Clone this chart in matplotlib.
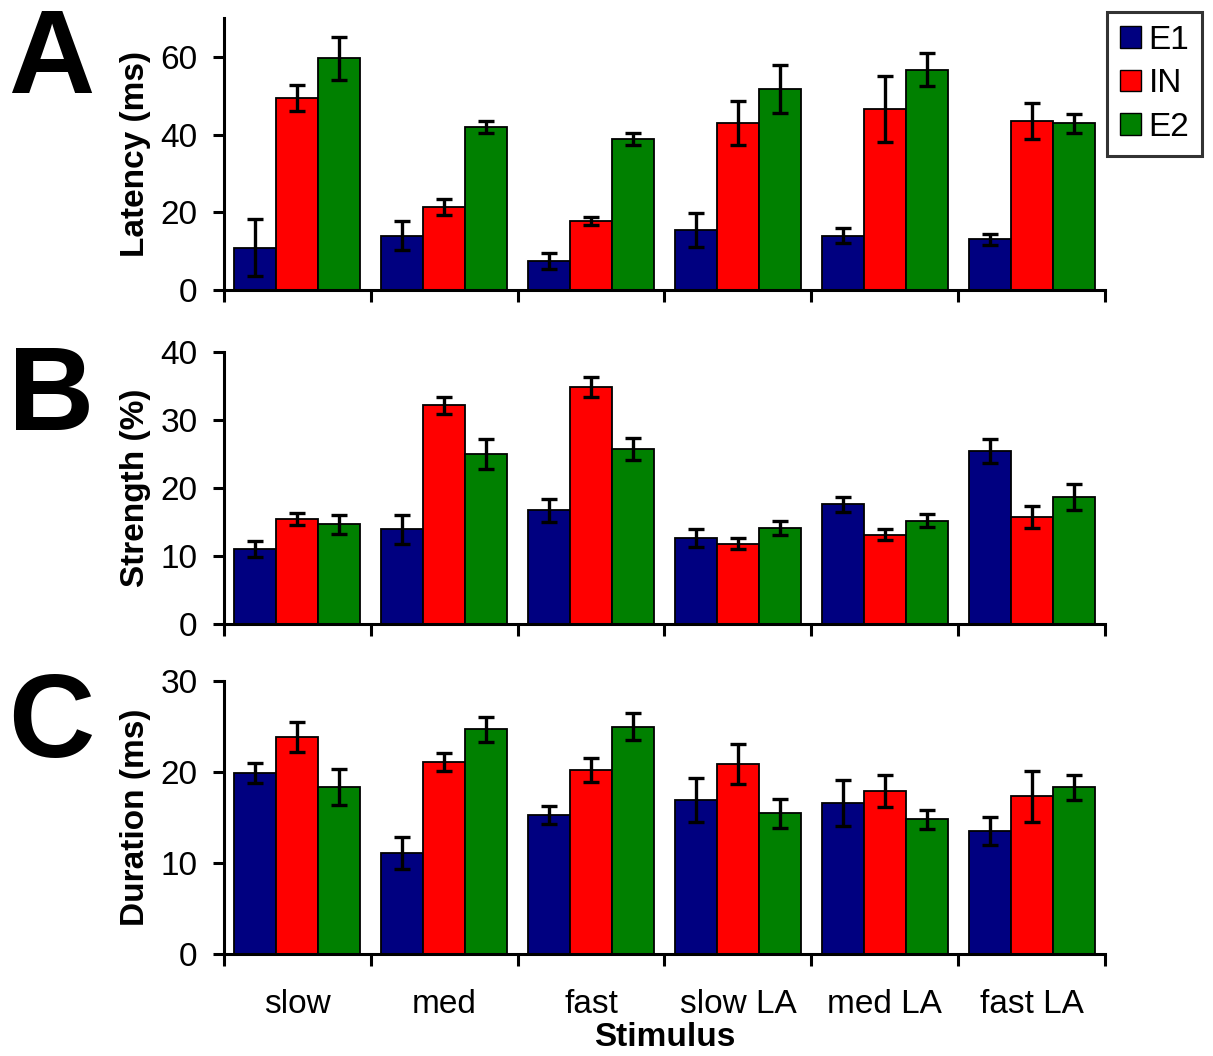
import matplotlib.pyplot as plt
from matplotlib.patches import Patch
import numpy as np

plt.rcParams['font.family'] = ['Liberation Sans', 'DejaVu Sans']

stimuli = ['slow', 'med', 'fast', 'slow LA', 'med LA', 'fast LA']
series = ['E1', 'IN', 'E2']
colors = ['#000080', '#ff0000', '#008000']

# latency (ms), mean and error
latency_e1 = [10.9, 14.0, 7.5, 15.4, 14.0, 13.0]
latency_in = [49.4, 21.3, 17.7, 42.9, 46.6, 43.5]
latency_e2 = [59.6, 42.0, 38.8, 51.7, 56.7, 42.9]
latency_e1_err = [7.4, 3.8, 2.1, 4.3, 1.9, 1.5]
latency_in_err = [3.3, 2.0, 1.0, 5.7, 8.4, 4.7]
latency_e2_err = [5.5, 1.6, 1.6, 6.2, 4.3, 2.4]

# strength (%)
strength_e1 = [11.0, 13.9, 16.7, 12.65, 17.6, 25.5]
strength_in = [15.4, 32.2, 34.9, 11.8, 13.1, 15.75]
strength_e2 = [14.65, 25.0, 25.8, 14.1, 15.2, 18.65]
strength_e1_err = [1.15, 2.1, 1.7, 1.3, 1.1, 1.8]
strength_in_err = [0.9, 1.3, 1.5, 0.85, 0.8, 1.6]
strength_e2_err = [1.4, 2.2, 1.6, 1.1, 1.0, 1.9]

# duration (ms)
duration_e1 = [19.85, 11.1, 15.25, 16.9, 16.6, 13.5]
duration_in = [23.85, 21.1, 20.2, 20.9, 17.95, 17.36]
duration_e2 = [18.35, 24.7, 24.98, 15.45, 14.8, 18.3]
duration_e1_err = [1.1, 1.8, 1.0, 2.4, 2.5, 1.55]
duration_in_err = [1.6, 1.0, 1.3, 2.2, 1.75, 2.8]
duration_e2_err = [2.0, 1.35, 1.5, 1.55, 1.05, 1.35]

panels = [
    ('A', 'Latency (ms)', [latency_e1, latency_in, latency_e2],
     [latency_e1_err, latency_in_err, latency_e2_err], 70, [0, 20, 40, 60]),
    ('B', 'Strength (%)', [strength_e1, strength_in, strength_e2],
     [strength_e1_err, strength_in_err, strength_e2_err], 40, [0, 10, 20, 30, 40]),
    ('C', 'Duration (ms)', [duration_e1, duration_in, duration_e2],
     [duration_e1_err, duration_in_err, duration_e2_err], 30, [0, 10, 20, 30]),
]

W, H = 1213, 1056
fig = plt.figure(figsize=(W / 100, H / 100), dpi=100)

# axes boxes in pixels: (bottom y, top y)
boxes = [(290, 18), (623.5, 352.5), (954, 681)]
left, right = 224, 1105
letter_base = [93, 430, 757]

x = np.arange(len(stimuli))
width = 0.286

for (letter, ylabel, vals, errs, ymax, yticks), (yb, yt), lb in zip(panels, boxes, letter_base):
    ax = fig.add_axes([left / W, 1 - yb / H, (right - left) / W, (yb - yt) / H])
    for k in range(3):
        ax.bar(x + (k - 1) * width, vals[k], width, color=colors[k],
               edgecolor='black', linewidth=1.3, zorder=2)
        ax.errorbar(x + (k - 1) * width, vals[k], yerr=errs[k], fmt='none',
                    ecolor='black', elinewidth=2.4, capsize=6, capthick=2.4, zorder=3)
    ax.set_xlim(-0.5, 5.5)
    ax.set_ylim(0, ymax)
    ax.set_yticks(yticks)
    ax.spines['top'].set_visible(False)
    ax.spines['right'].set_visible(False)
    for s in ('left', 'bottom'):
        ax.spines[s].set_linewidth(2.2)
    ax.tick_params(axis='y', direction='out', length=8, width=2.2, labelsize=24, pad=11)
    ax.set_xticks(x)
    ax.set_xticks(np.arange(-0.5, 6, 1), minor=True)
    ax.tick_params(axis='x', which='major', length=0, labelsize=24, pad=25)
    ax.tick_params(axis='x', which='minor', direction='out', length=8.5, width=2.2)
    if letter == 'C':
        ax.set_xticklabels(stimuli)
        ax.set_xlabel('Stimulus', fontsize=24, fontweight='bold')
        ax.xaxis.set_label_coords(0.5, -0.25)
    else:
        ax.set_xticklabels([])
    ax.set_ylabel(ylabel, fontsize=24, fontweight='bold')
    ax.yaxis.set_label_coords(-0.083, 0.5)
    fig.text(51 / W, 1 - lb / H, letter, fontsize=86, fontweight='bold',
             ha='center', va='baseline')

handles = [Patch(facecolor=c, edgecolor='black', linewidth=1) for c in colors]
leg = fig.legend(handles, series, loc='upper right',
                 bbox_to_anchor=(1202 / W, 1 - 12 / H), fontsize=24,
                 frameon=True, fancybox=False, edgecolor='black',
                 handlelength=0.65, handleheight=0.62, handletextpad=0.22,
                 labelspacing=0.38, borderpad=0.38, borderaxespad=0)
leg.get_frame().set_linewidth(2.2)

fig.savefig('out.png', dpi=100)
